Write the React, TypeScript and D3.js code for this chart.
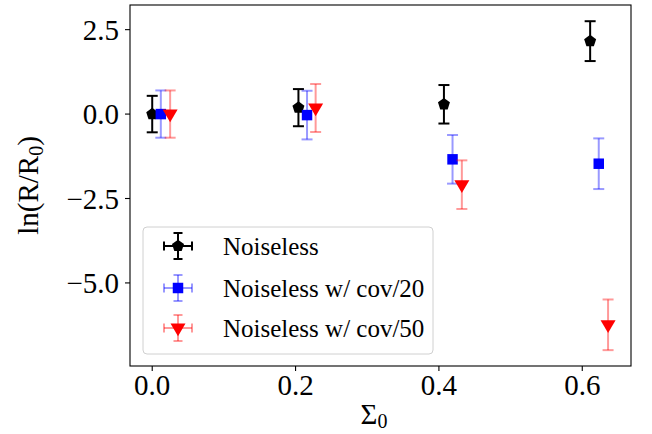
import React from 'react';
import * as d3 from 'd3';

// Sigma_0 positions (small offsets per series, as in the figure)
const sigmaNoiseless = [0.0, 0.204, 0.407, 0.611];
const sigmaCov20 = [0.012, 0.216, 0.419, 0.623];
const sigmaCov50 = [0.025, 0.228, 0.432, 0.636];

const lnNoiseless = [0.0, 0.19, 0.29, 2.16];
const errNoiseless = [0.54, 0.55, 0.57, 0.59];
const lnCov20 = [0.0, -0.03, -1.34, -1.47];
const errCov20 = [0.7, 0.72, 0.72, 0.75];
const lnCov50 = [0.0, 0.18, -2.09, -6.24];
const errCov50 = [0.7, 0.71, 0.72, 0.75];

const xTicks = [0.0, 0.2, 0.4, 0.6];
const yTicks = [2.5, 0.0, -2.5, -5.0];

const seriesNames = ['Noiseless', 'Noiseless w/ cov/20', 'Noiseless w/ cov/50'];

const W = 652, H = 434;
const M = { left: 130, top: 5, right: 631, bottom: 366 };
const FONT = '"Liberation Serif", "DejaVu Serif", serif';

type Series = {
  name: string;
  xs: number[];
  ys: number[];
  errs: number[];
  marker: string;
  color: string;
  barColor: string;
};

const series: Series[] = [
  { name: seriesNames[0], xs: sigmaNoiseless, ys: lnNoiseless, errs: errNoiseless, marker: 'pentagon', color: '#000', barColor: '#000' },
  { name: seriesNames[1], xs: sigmaCov20, ys: lnCov20, errs: errCov20, marker: 'square', color: '#0000ff', barColor: 'rgba(0,0,255,0.4)' },
  { name: seriesNames[2], xs: sigmaCov50, ys: lnCov50, errs: errCov50, marker: 'tri', color: '#ff0000', barColor: 'rgba(255,0,0,0.4)' },
];

function markerPath(kind: string): string {
  if (kind === 'square') {
    return d3.symbol(d3.symbolSquare, 110)() as string;
  }
  if (kind === 'tri') {
    const r = 7.5;
    return `M${-r},${-r * 0.6}L${r},${-r * 0.6}L0,${r * 1.1}Z`;
  }
  const r = 6.3;
  const pts = d3.range(5).map((i) => {
    const a = -Math.PI / 2 + (i * 2 * Math.PI) / 5;
    return [r * Math.cos(a), r * Math.sin(a)];
  });
  return 'M' + pts.map((p) => p.join(',')).join('L') + 'Z';
}

function ErrBar({ cx, y0, y1, color, cap = 5.5, sw = 2 }: any) {
  return (
    <g stroke={color} strokeWidth={sw} fill="none">
      <line x1={cx} x2={cx} y1={y0} y2={y1} />
      <line x1={cx - cap} x2={cx + cap} y1={y0} y2={y0} />
      <line x1={cx - cap} x2={cx + cap} y1={y1} y2={y1} />
    </g>
  );
}

export default function App() {
  const x = d3.scaleLinear().domain([-0.031, 0.668]).range([M.left, M.right]);
  const y = d3.scaleLinear().domain([3.23, -7.46]).range([M.top, M.bottom]);

  const legX = 143, legY = 227, legW = 290, legH = 127;
  const legRows = [246, 288, 328];

  return (
    <svg width={W} height={H} style={{ position: 'absolute', left: 0, top: 0, background: '#fff' }} fontFamily={FONT}>
      {series.map((s) => (
        <g key={s.name}>
          {s.xs.map((v, i) => (
            <ErrBar key={i} cx={x(v)} y0={y(s.ys[i] + s.errs[i])} y1={y(s.ys[i] - s.errs[i])} color={s.barColor} />
          ))}
          {s.xs.map((v, i) => (
            <path key={'m' + i} d={markerPath(s.marker)} transform={`translate(${x(v)},${y(s.ys[i])})`} fill={s.color} />
          ))}
        </g>
      ))}

      {/* axes frame */}
      <rect x={M.left} y={M.top} width={M.right - M.left} height={M.bottom - M.top} fill="none" stroke="#000" strokeWidth={1.1} />

      {xTicks.map((t) => (
        <g key={t} transform={`translate(${x(t)},0)`}>
          <line y1={M.bottom} y2={M.bottom + 5} stroke="#000" strokeWidth={1.1} />
          <text y={395} textAnchor="middle" fontSize={29} fill="#000">{t.toFixed(1)}</text>
        </g>
      ))}
      {yTicks.map((t) => (
        <g key={t} transform={`translate(0,${y(t)})`}>
          <line x1={M.left - 5} x2={M.left} stroke="#000" strokeWidth={1.1} />
          <text x={119} dy="0.35em" textAnchor="end" fontSize={29} fill="#000">
            {t < 0 ? '\u2212' + Math.abs(t).toFixed(1) : t.toFixed(1)}
          </text>
        </g>
      ))}

      {/* axis labels */}
      <text x={374} y={424} textAnchor="middle" fontSize={29} fill="#000">
        Σ<tspan fontSize={20} dy={4}>0</tspan>
      </text>
      <text transform={`translate(38,${(M.top + M.bottom) / 2}) rotate(-90)`} textAnchor="middle" fontSize={29} fill="#000">
        ln(R/R<tspan fontSize={20} dy={5}>0</tspan><tspan dy={-5}>)</tspan>
      </text>

      {/* legend */}
      <rect x={legX} y={legY} width={legW} height={legH} rx={4} fill="rgba(255,255,255,0.8)" stroke="#d0d0d0" strokeWidth={1} />
      {series.map((s, i) => {
        const cx = 178, cy = legRows[i];
        return (
          <g key={'leg' + i}>
            <ErrBar cx={cx} y0={cy - 13} y1={cy + 13} color={s.barColor} cap={4.5} />
            <g stroke={s.barColor} strokeWidth={2}>
              <line x1={cx - 14} x2={cx + 14} y1={cy} y2={cy} />
              <line x1={cx - 14} x2={cx - 14} y1={cy - 4.5} y2={cy + 4.5} />
              <line x1={cx + 14} x2={cx + 14} y1={cy - 4.5} y2={cy + 4.5} />
            </g>
            <path d={markerPath(s.marker)} transform={`translate(${cx},${cy})`} fill={s.color} />
            <text x={223} y={cy} dy="0.35em" fontSize={25} fill="#000">{s.name}</text>
          </g>
        );
      })}
    </svg>
  );
}
